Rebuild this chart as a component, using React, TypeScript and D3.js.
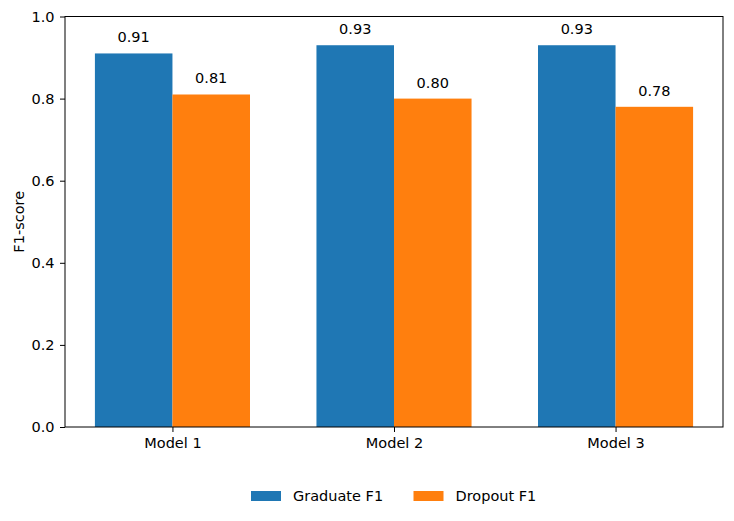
import { useRef, useEffect } from 'react';
import * as d3 from 'd3';

const models = ['Model 1', 'Model 2', 'Model 3'];
const graduateF1 = [0.91, 0.93, 0.93];
const dropoutF1 = [0.81, 0.80, 0.78];
const yTicks = [0, 0.2, 0.4, 0.6, 0.8, 1.0];

const seriesNames = ['Graduate F1', 'Dropout F1'];
const colors = ['#1f77b4', '#ff7f0e'];

export default function App() {
  const svgRef = useRef<SVGSVGElement>(null);
  const width = 734;
  const height = 521;
  const margin = { top: 16.5, right: 11, bottom: 94, left: 65 };

  useEffect(() => {
    if (!svgRef.current) return;
    const svg = d3.select(svgRef.current);
    svg.selectAll('*').remove();

    const font = 'DejaVu Sans, sans-serif';
    const fontSize = '14.5px';
    const barW = 0.35;

    // Scales (matplotlib-like: numeric x with 5% margins)
    const xScale = d3.scaleLinear()
      .domain([-0.485, 2.485])
      .range([margin.left, width - margin.right]);
    const yScale = d3.scaleLinear()
      .domain([0, 1])
      .range([height - margin.bottom, margin.top]);

    const series = [graduateF1, dropoutF1];

    series.forEach((vals, si) => {
      const offset = si === 0 ? -barW : 0;
      svg.append('g')
        .selectAll('rect')
        .data(vals)
        .join('rect')
        .attr('x', (_, i) => xScale(i + offset))
        .attr('width', xScale(barW) - xScale(0))
        .attr('y', d => yScale(d))
        .attr('height', d => yScale(0) - yScale(d))
        .attr('fill', colors[si]);

      // value labels
      svg.append('g')
        .selectAll('text')
        .data(vals)
        .join('text')
        .attr('x', (_, i) => xScale(i + offset + barW / 2))
        .attr('y', d => yScale(d) - 11)
        .attr('text-anchor', 'middle')
        .attr('font-family', font)
        .attr('font-size', fontSize)
        .attr('fill', '#000')
        .text(d => d.toFixed(2));
    });

    // X axis
    const xAxis = d3.axisBottom(xScale)
      .tickValues([0, 1, 2])
      .tickFormat((d) => models[d as number])
      .tickSize(5)
      .tickPadding(5.5)
      .tickSizeOuter(0);
    const gx = svg.append('g')
      .attr('transform', `translate(0,${height - margin.bottom})`)
      .call(xAxis);
    gx.select('.domain').remove();
    gx.selectAll('text')
      .attr('font-family', font)
      .attr('font-size', fontSize)
      .attr('fill', '#000');
    gx.selectAll('line').attr('stroke', '#000');

    // Y axis
    const yAxis = d3.axisLeft(yScale)
      .tickValues(yTicks)
      .tickFormat(d => (d as number).toFixed(1))
      .tickSize(5)
      .tickPadding(5.5)
      .tickSizeOuter(0);
    const gy = svg.append('g')
      .attr('transform', `translate(${margin.left},0)`)
      .call(yAxis);
    gy.select('.domain').remove();
    gy.selectAll('text')
      .attr('font-family', font)
      .attr('font-size', fontSize)
      .attr('fill', '#000');
    gy.selectAll('line').attr('stroke', '#000');

    // Frame
    svg.append('rect')
      .attr('x', margin.left)
      .attr('y', margin.top)
      .attr('width', width - margin.left - margin.right)
      .attr('height', height - margin.top - margin.bottom)
      .attr('fill', 'none')
      .attr('stroke', '#000')
      .attr('stroke-width', 1);

    // Y label
    svg.append('text')
      .attr('transform', `translate(24,${(margin.top + height - margin.bottom) / 2}) rotate(-90)`)
      .attr('text-anchor', 'middle')
      .attr('font-family', font)
      .attr('font-size', fontSize)
      .attr('fill', '#000')
      .text('F1-score');

    // Legend
    const legendX = [251, 413.5];
    const leg = svg.append('g');
    seriesNames.forEach((name, i) => {
      leg.append('rect')
        .attr('x', legendX[i])
        .attr('y', 491)
        .attr('width', 30)
        .attr('height', 10)
        .attr('fill', colors[i]);
      leg.append('text')
        .attr('x', legendX[i] + 42)
        .attr('y', 501)
        .attr('font-family', font)
        .attr('font-size', fontSize)
        .attr('fill', '#000')
        .text(name);
    });
  }, []);

  return (
    <div style={{ margin: -8 }}>
      <svg ref={svgRef} width={width} height={height} style={{ display: 'block' }} />
    </div>
  );
}
